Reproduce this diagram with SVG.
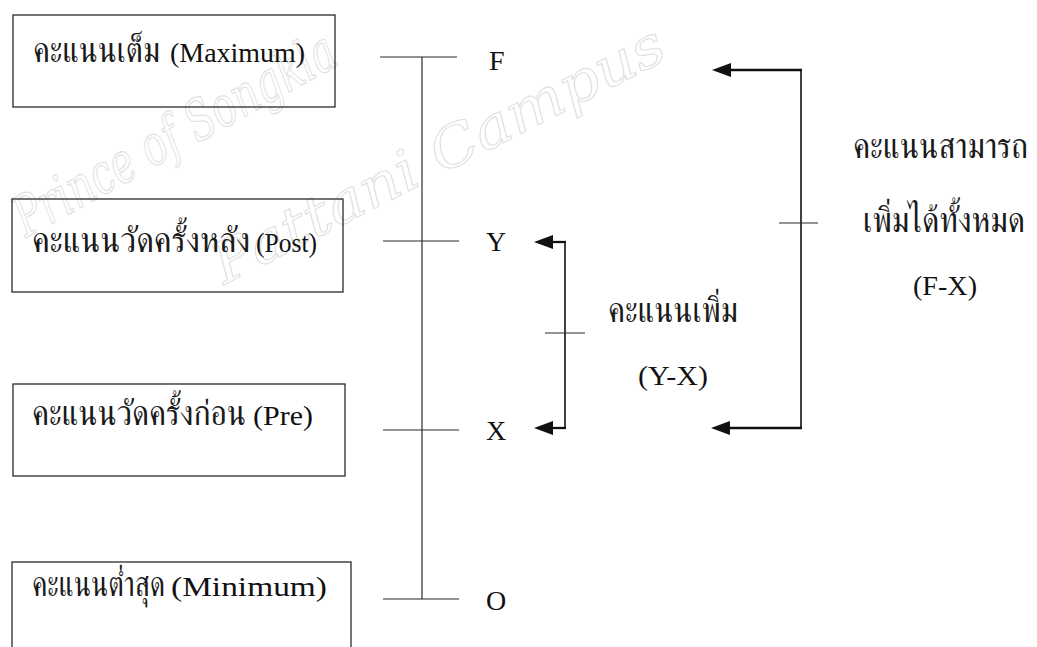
<svg xmlns="http://www.w3.org/2000/svg" width="1037" height="647" viewBox="0 0 1037 647">
<defs>
<style>
.box{fill:none;stroke:#2a2a2a;stroke-width:1.3}
.th{font-family:"FreeSerif","Noto Sans Thai",serif;font-size:35px;fill:#1a1a1a}
.la{font-family:"Liberation Serif","Times New Roman",serif;font-size:28px;fill:#111}
.ln{stroke:#2a2a2a;stroke-width:1.2;fill:none}
.br{stroke:#111;stroke-width:1.6;fill:none}
.bh{stroke:#111;stroke-width:2.3;fill:none}
.ah{fill:#111}
.wm{font-family:"DejaVu Serif",serif;font-style:italic;font-size:56px;fill:none;stroke:#e0e0e0;stroke-width:1.1}
</style>
</defs>
<rect width="1037" height="647" fill="#fff"/>
<g id="watermark">
<text class="wm" transform="translate(26,238) rotate(-29)" textLength="360" lengthAdjust="spacingAndGlyphs">Prince of Songkla</text>
<text class="wm" transform="translate(224,285) rotate(-27)" textLength="500" lengthAdjust="spacingAndGlyphs">Pattani Campus</text>
</g>
<g id="node-max">
<rect class="box" x="13" y="15" width="322" height="92"/>
<text class="th" transform="scale(0.85,1)" x="38.8" y="62" textLength="149.4" lengthAdjust="spacingAndGlyphs">คะแนนเต็ม</text>
<text class="la" x="170" y="62" textLength="135" lengthAdjust="spacingAndGlyphs">(Maximum)</text>
</g>
<g id="node-post">
<rect class="box" x="12" y="199" width="331" height="93"/>
<text class="th" transform="scale(0.85,1)" x="37.6" y="252" textLength="256.5" lengthAdjust="spacingAndGlyphs">คะแนนวัดครั้งหลัง</text>
<text class="la" x="256" y="252" textLength="61" lengthAdjust="spacingAndGlyphs">(Post)</text>
</g>
<g id="node-pre">
<rect class="box" x="13" y="384" width="332" height="92"/>
<text class="th" transform="scale(0.85,1)" x="37.6" y="425" textLength="251.8" lengthAdjust="spacingAndGlyphs">คะแนนวัดครั้งก่อน</text>
<text class="la" x="253" y="425" textLength="60" lengthAdjust="spacingAndGlyphs">(Pre)</text>
</g>
<g id="node-min">
<rect class="box" x="12" y="562" width="339" height="95"/>
<text class="th" transform="scale(0.85,1)" x="37.6" y="596" textLength="156.5" lengthAdjust="spacingAndGlyphs">คะแนนต่ำสุด</text>
<text class="la" x="171" y="596" textLength="156" lengthAdjust="spacingAndGlyphs">(Minimum)</text>
</g>
<g id="scale">
<line class="ln" x1="422" y1="57" x2="422" y2="599"/>
<line class="ln" x1="380" y1="57" x2="457" y2="57"/>
<line class="ln" x1="383" y1="241" x2="459" y2="241"/>
<line class="ln" x1="383" y1="430" x2="459" y2="430"/>
<line class="ln" x1="383" y1="599" x2="459" y2="599"/>
<text class="la" x="489" y="70">F</text>
<text class="la" x="486" y="251">Y</text>
<text class="la" x="486" y="440">X</text>
<text class="la" x="486" y="610">O</text>
</g>
<g id="connectors">
<line class="br" x1="565" y1="241" x2="565" y2="429"/>
<line class="bh" x1="566" y1="242" x2="551" y2="242"/>
<line class="bh" x1="566" y1="428" x2="551" y2="428"/>
<path class="ah" d="M534,242 L553,235 L553,249 z"/>
<path class="ah" d="M534,428 L553,421 L553,435 z"/>
<line class="ln" x1="545" y1="333" x2="585" y2="333"/>
<line class="br" x1="801" y1="69" x2="801" y2="429"/>
<line class="bh" x1="802" y1="70" x2="728" y2="70"/>
<line class="bh" x1="802" y1="428" x2="728" y2="428"/>
<path class="ah" d="M712,70 L731,63 L731,77 z"/>
<path class="ah" d="M711,428 L730,421 L730,435 z"/>
<line class="ln" x1="779" y1="223" x2="818" y2="223"/>
</g>
<g id="labels">
<text class="th" transform="scale(0.85,1)" x="715.3" y="322" textLength="152.9" lengthAdjust="spacingAndGlyphs">คะแนนเพิ่ม</text>
<text class="la" x="638" y="385" textLength="70" lengthAdjust="spacingAndGlyphs">(Y-X)</text>
<text class="th" transform="scale(0.85,1)" x="1003.5" y="158" textLength="205.9" lengthAdjust="spacingAndGlyphs">คะแนนสามารถ</text>
<text class="th" transform="scale(0.85,1)" x="1015.3" y="232" textLength="190.6" lengthAdjust="spacingAndGlyphs">เพิ่มได้ทั้งหมด</text>
<text class="la" x="913" y="295" textLength="64" lengthAdjust="spacingAndGlyphs">(F-X)</text>
</g>
</svg>
